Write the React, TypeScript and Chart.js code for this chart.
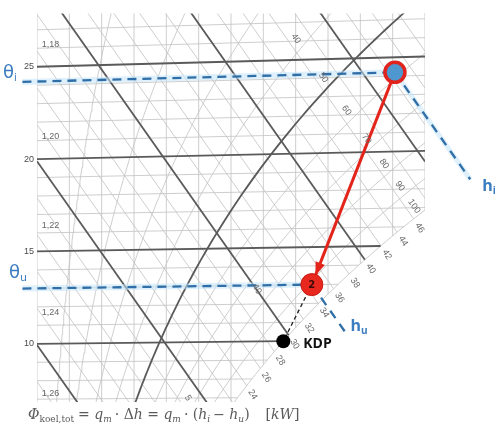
import React, { useEffect, useRef } from "react";
import { Chart, registerables } from "chart.js";

Chart.register(...registerables);

// ---------------- data ----------------
const PRESSURE = 101.325; // kPa
const X_MIN = 0;
const X_MAX = 12; // g/kg
const Y_MIN = 6.89;
const Y_MAX = 28.05;

const moistureGrid = [0, 1, 2, 3, 4, 5, 6, 7, 8, 9, 10, 11, 12];
const isothermsMajor = [10, 15, 20, 25];
const isothermsMinor = [5, 6, 7, 8, 9, 11, 12, 13, 14, 16, 17, 18, 19, 21, 22, 23, 24, 26, 27, 28, 29];
const enthalpyMajor = [10, 20, 30, 40, 50];
const enthalpyMinor = [8, 12, 14, 16, 18, 22, 24, 26, 28, 32, 34, 36, 38, 42, 44, 46, 48, 52, 54, 56, 58];
const rhMajor = [50];
const rhMinor = [10, 20, 30, 40, 60, 70, 80, 90, 100];
const rhLabels = [40, 50, 60, 70, 80, 90, 100];
const rhLabelEnthalpy = 47;
const enthalpyLabels = [24, 26, 28, 30, 32, 34, 36, 38, 40, 42, 44, 46];
const tempLabels = ["25", "20", "15", "10"];
const densityLabels = ["1,18", "1,20", "1,22", "1,24", "1,26"];
const densityLabelTemps = [26.2, 21.2, 16.4, 11.7, 7.3];
const extraLabels = [
  { text: "40", x: 6.8, t: 12.8 },
  { text: "5", x: 4.67, t: 7.0 },
];
const inletState = { t: 24.2, x: 11.07 };
const outletState = { t: 13.0, x: 8.5 };
const dewPointTemp = 10;
const dashStartX = -0.45;
const hInletEndX = 13.4;
const hOutletEndX = 9.6;

// ---------------- psychrometrics ----------------
const ps = (t: number) => 0.61094 * Math.exp((17.625 * t) / (t + 243.04));
const xAt = (t: number, phi: number) => (622 * phi * ps(t)) / (PRESSURE - phi * ps(t));
const Yof = (t: number, x: number) => 1.006 * t + 0.00186 * t * x;
const tOf = (Y: number, x: number) => Y / (1.006 + 0.00186 * x);
const hOf = (t: number, x: number) => Yof(t, x) + 2.501 * x;
const dewT = (x: number) => {
  const pv = (x * PRESSURE) / (622 + x);
  const l = Math.log(pv / 0.61094);
  return (243.04 * l) / (17.625 - l);
};
const satXforH = (h: number) => {
  let lo = 0;
  let hi = 40;
  for (let i = 0; i < 60; i++) {
    const m = (lo + hi) / 2;
    const f = m - xAt(tOf(h - 2.501 * m, m), 1);
    if (f < 0) lo = m;
    else hi = m;
  }
  return (lo + hi) / 2;
};
const tForPhiH = (phi: number, h: number) => {
  let lo = -10;
  let hi = 40;
  for (let i = 0; i < 60; i++) {
    const m = (lo + hi) / 2;
    if (hOf(m, xAt(m, phi)) < h) lo = m;
    else hi = m;
  }
  return (lo + hi) / 2;
};

const isoPts = (t: number) => {
  const xe = Math.min(X_MAX, xAt(t, 1));
  return [
    { x: 0, y: Yof(t, 0) },
    { x: xe, y: Yof(t, xe) },
  ];
};
const hPts = (h: number) => {
  const xe = Math.min(X_MAX, satXforH(h));
  return [
    { x: 0, y: h },
    { x: xe, y: h - 2.501 * xe },
  ];
};
const vPts = (x: number) => {
  let yb = Y_MIN - 1;
  if (x > 0) yb = Math.max(yb, Yof(dewT(x), x));
  return [
    { x, y: yb },
    { x, y: Y_MAX + 1 },
  ];
};
const rhPts = (phi: number) => {
  const pts: { x: number; y: number }[] = [];
  for (let i = 0; i <= 160; i++) {
    const t = -5 + i * 0.25;
    const x = xAt(t, phi);
    pts.push({ x, y: Yof(t, x) });
    if (x > X_MAX + 1) break;
  }
  return pts;
};

const THIN = "#c2c2c2";
const HEAVY = "#5a5a5a";
const BLUE = "#2f6ea6";
const BLUE_LABEL = "#3a7cc0";
const HALO = "rgba(195,228,248,0.55)";
const RED = "#e3241b";

const line = (label: string, data: any[], color: string, width: number, order: number, extra: any = {}) => ({
  label,
  data,
  showLine: true,
  borderColor: color,
  backgroundColor: color,
  borderWidth: width,
  pointRadius: 0,
  pointHoverRadius: 0,
  fill: false,
  tension: 0,
  order,
  ...extra,
});

function drawRuns(ctx: CanvasRenderingContext2D, x: number, y: number, runs: any[]) {
  let cx = x;
  for (const r of runs) {
    ctx.font = r.font;
    ctx.fillText(r.text, cx, y + (r.dy || 0));
    cx += ctx.measureText(r.text).width + (r.gap || 0);
  }
  return cx;
}

const overlayPlugin = {
  id: "mollierOverlay",
  afterDatasetDraw(chart: any, args: any) {
    const ds = chart.data.datasets[args.index];
    if (ds.label !== "process") return;
    const sx = chart.scales.x;
    const sy = chart.scales.y;
    const x1 = sx.getPixelForValue(inletState.x);
    const y1 = sy.getPixelForValue(Yof(inletState.t, inletState.x));
    const x2 = sx.getPixelForValue(outletState.x);
    const y2 = sy.getPixelForValue(Yof(outletState.t, outletState.x));
    const len = Math.hypot(x2 - x1, y2 - y1);
    const dx = (x2 - x1) / len;
    const dy = (y2 - y1) / len;
    const tipX = x2 - dx * 10;
    const tipY = y2 - dy * 10;
    const nx = -dy;
    const ny = dx;
    const ctx = chart.ctx;
    ctx.save();
    ctx.fillStyle = RED;
    ctx.beginPath();
    ctx.moveTo(tipX, tipY);
    ctx.lineTo(tipX - dx * 13 + nx * 5, tipY - dy * 13 + ny * 5);
    ctx.lineTo(tipX - dx * 13 - nx * 5, tipY - dy * 13 - ny * 5);
    ctx.closePath();
    ctx.fill();
    ctx.restore();
  },
  afterDraw(chart: any) {
    const ctx: CanvasRenderingContext2D = chart.ctx;
    const sx = chart.scales.x;
    const sy = chart.scales.y;
    const P = (x: number, t: number) => [sx.getPixelForValue(x), sy.getPixelForValue(Yof(t, x))];
    ctx.save();

    // temperature labels
    ctx.fillStyle = "#4a4a4a";
    ctx.font = "9px 'Liberation Sans'";
    ctx.textAlign = "right";
    ctx.textBaseline = "middle";
    tempLabels.forEach((lab, i) => {
      const [, py] = P(0, isothermsMajor[3 - i]);
      ctx.fillText(lab, sx.getPixelForValue(0) - 3, py);
    });

    // density labels
    ctx.textAlign = "left";
    ctx.fillStyle = "#666";
    densityLabels.forEach((lab, i) => {
      const [px, py] = P(0.15, densityLabelTemps[i]);
      ctx.fillText(lab, px, py);
    });

    const rot = (text: string, px: number, py: number, ang: number) => {
      ctx.save();
      ctx.translate(px, py);
      ctx.rotate((ang * Math.PI) / 180);
      ctx.textAlign = "center";
      ctx.textBaseline = "middle";
      ctx.fillText(text, 0, 0);
      ctx.restore();
    };

    ctx.fillStyle = "#6a6a6a";
    ctx.font = "9px 'Liberation Sans'";
    enthalpyLabels.forEach((h) => {
      const xs = satXforH(h);
      const px = sx.getPixelForValue(xs);
      const py = sy.getPixelForValue(h - 2.501 * xs);
      rot(String(h), px + 6, py + 9, 58);
    });
    rhLabels.forEach((phi) => {
      const t = tForPhiH(phi / 100, rhLabelEnthalpy);
      const [px, py] = P(xAt(t, phi / 100), t);
      rot(String(phi), px - 8, py - 6, 55);
    });
    extraLabels.forEach((l) => {
      const [px, py] = P(l.x, l.t);
      rot(l.text, px, py, 58);
    });

    // theta labels
    ctx.fillStyle = BLUE_LABEL;
    ctx.textAlign = "left";
    ctx.textBaseline = "alphabetic";
    {
      const [, py] = P(0, inletState.t);
      drawRuns(ctx, 3, py - 4, [
        { text: "θ", font: "18px 'DejaVu Sans'" },
        { text: "i", font: "10px 'DejaVu Sans'", dy: 3 },
      ]);
    }
    {
      const [, py] = P(0, outletState.t);
      drawRuns(ctx, 9, py - 10, [
        { text: "θ", font: "18px 'DejaVu Sans'" },
        { text: "u", font: "11px 'DejaVu Sans'", dy: 3 },
      ]);
    }
    {
      const hIn = hOf(inletState.t, inletState.x);
      const px = sx.getPixelForValue(hInletEndX);
      const py = sy.getPixelForValue(hIn - 2.501 * hInletEndX);
      drawRuns(ctx, px + 12, py + 12, [
        { text: "h", font: "bold 16px 'Open Sans'" },
        { text: "i", font: "bold 10px 'Open Sans'", dy: 3 },
      ]);
    }
    {
      const hOut = hOf(outletState.t, outletState.x);
      const px = sx.getPixelForValue(hOutletEndX);
      const py = sy.getPixelForValue(hOut - 2.501 * hOutletEndX);
      drawRuns(ctx, px + 3, py - 4, [
        { text: "h", font: "bold 16px 'Open Sans'" },
        { text: "u", font: "bold 10px 'Open Sans'", dy: 3 },
      ]);
    }

    {
      const [px, py] = P(outletState.x, outletState.t);
      ctx.fillStyle = "#3a0a08";
      ctx.font = "bold 10px 'DejaVu Sans'";
      ctx.textAlign = "center";
      ctx.textBaseline = "middle";
      ctx.fillText("2", px, py + 1);
    }
    {
      const xd = xAt(dewPointTemp, 1);
      const [px, py] = P(xd, dewPointTemp);
      ctx.fillStyle = "#111";
      ctx.font = "bold 14px 'Open Sans'";
      ctx.textAlign = "left";
      ctx.textBaseline = "middle";
      ctx.fillText("KDP", px + 20, py + 3);
    }

    // formula
    ctx.fillStyle = "#5a5a5a";
    ctx.textAlign = "left";
    ctx.textBaseline = "alphabetic";
    const it = "italic 14px 'DejaVu Serif'";
    const rm = "14px 'DejaVu Serif'";
    const sub = "9px 'DejaVu Serif'";
    const subI = "italic 9px 'DejaVu Serif'";
    drawRuns(ctx, 28, 419, [
      { text: "Φ", font: it },
      { text: "koel,tot", font: sub, dy: 3, gap: 4 },
      { text: "= ", font: rm },
      { text: "q", font: it },
      { text: "m", font: subI, dy: 3, gap: 3 },
      { text: "· Δ", font: rm },
      { text: "h", font: it },
      { text: " = ", font: rm },
      { text: "q", font: it },
      { text: "m", font: subI, dy: 3, gap: 3 },
      { text: "· (", font: rm },
      { text: "h", font: it },
      { text: "i", font: subI, dy: 3, gap: 3 },
      { text: "− ", font: rm },
      { text: "h", font: it },
      { text: "u", font: subI, dy: 3 },
      { text: ")", font: rm, gap: 16 },
      { text: "[", font: rm },
      { text: "kW", font: it },
      { text: "]", font: rm },
    ]);

    ctx.restore();
  },
};

export default function App() {
  const ref = useRef<HTMLCanvasElement | null>(null);

  useEffect(() => {
    if (!ref.current) return;
    const datasets: any[] = [];

    moistureGrid.forEach((x) => datasets.push(line("x" + x, vPts(x), THIN, 0.8, 100)));
    isothermsMinor.forEach((t) => datasets.push(line("t" + t, isoPts(t), THIN, 0.8, 100)));
    enthalpyMinor.forEach((h) => datasets.push(line("h" + h, hPts(h), THIN, 0.8, 100)));
    rhMinor.forEach((p) => datasets.push(line("rh" + p, rhPts(p / 100), THIN, 0.8, 100)));

    isothermsMajor.forEach((t) => datasets.push(line("T" + t, isoPts(t), HEAVY, 1.8, 90)));
    enthalpyMajor.forEach((h) => datasets.push(line("H" + h, hPts(h), HEAVY, 1.8, 90)));
    rhMajor.forEach((p) => datasets.push(line("RH" + p, rhPts(p / 100), HEAVY, 1.8, 90)));

    const inY = Yof(inletState.t, inletState.x);
    const outY = Yof(outletState.t, outletState.x);
    const hIn = inY + 2.501 * inletState.x;
    const hOut = outY + 2.501 * outletState.x;

    const thetaIn = [
      { x: dashStartX, y: Yof(inletState.t, dashStartX) },
      { x: inletState.x, y: inY },
    ];
    const thetaOut = [
      { x: dashStartX, y: Yof(outletState.t, dashStartX) },
      { x: outletState.x, y: outY },
    ];
    const hInLine = [
      { x: inletState.x, y: inY },
      { x: hInletEndX, y: hIn - 2.501 * hInletEndX },
    ];
    const hOutLine = [
      { x: outletState.x, y: outY },
      { x: hOutletEndX, y: hOut - 2.501 * hOutletEndX },
    ];

    [thetaIn, thetaOut].forEach((d, i) => datasets.push(line("halo" + i, d, HALO, 6, 60, { clip: false })));
    datasets.push(line("halo2", hInLine, HALO, 5, 60, { clip: false }));
    datasets.push(line("thetaIn", thetaIn, BLUE, 2.3, 50, { clip: false, borderDash: [9, 6] }));
    datasets.push(line("thetaOut", thetaOut, BLUE, 2.3, 50, { clip: false, borderDash: [9, 6] }));
    datasets.push(line("hIn", hInLine, BLUE, 2.3, 50, { clip: false, borderDash: [9, 7] }));
    datasets.push(line("hOut", hOutLine, BLUE, 2.3, 50, { clip: false, borderDash: [9, 7] }));

    const xd = xAt(dewPointTemp, 1);
    const dewY = Yof(dewPointTemp, xd);
    datasets.push(
      line("toDew", [{ x: outletState.x, y: outY }, { x: xd, y: dewY }], "#222", 1.3, 40, {
        clip: false,
        borderDash: [4, 3],
      })
    );
    datasets.push(
      line("process", [{ x: inletState.x, y: inY }, { x: outletState.x, y: outY }], RED, 3, 30, { clip: false })
    );

    datasets.push({
      label: "inlet",
      data: [{ x: inletState.x, y: inY }],
      pointRadius: 10,
      pointBackgroundColor: "#4f97cf",
      pointBorderColor: "#e0231c",
      pointBorderWidth: 3.5,
      showLine: false,
      order: 10,
      clip: false,
    });
    datasets.push({
      label: "outlet",
      data: [{ x: outletState.x, y: outY }],
      pointRadius: 11,
      pointBackgroundColor: "#e8271f",
      pointBorderColor: "#c81a12",
      pointBorderWidth: 1,
      showLine: false,
      order: 10,
      clip: false,
    });
    datasets.push({
      label: "dew",
      data: [{ x: xd, y: dewY }],
      pointRadius: 7,
      pointBackgroundColor: "#000",
      pointBorderColor: "#000",
      pointBorderWidth: 0,
      showLine: false,
      order: 10,
      clip: false,
    });

    const chart = new Chart(ref.current, {
      type: "scatter",
      data: { datasets },
      options: {
        animation: false,
        responsive: true,
        maintainAspectRatio: false,
        events: [],
        layout: { padding: { left: 37, right: 78, top: 8, bottom: 23 } },
        scales: {
          x: { type: "linear", min: X_MIN, max: X_MAX, display: false },
          y: { type: "linear", min: Y_MIN, max: Y_MAX, display: false },
        },
        plugins: { legend: { display: false }, tooltip: { enabled: false } },
      } as any,
      plugins: [overlayPlugin as any],
    });
    return () => chart.destroy();
  }, []);

  return (
    <div style={{ position: "fixed", left: 0, top: 0, width: 503, height: 425, background: "#fff" }}>
      <canvas ref={ref} />
    </div>
  );
}
